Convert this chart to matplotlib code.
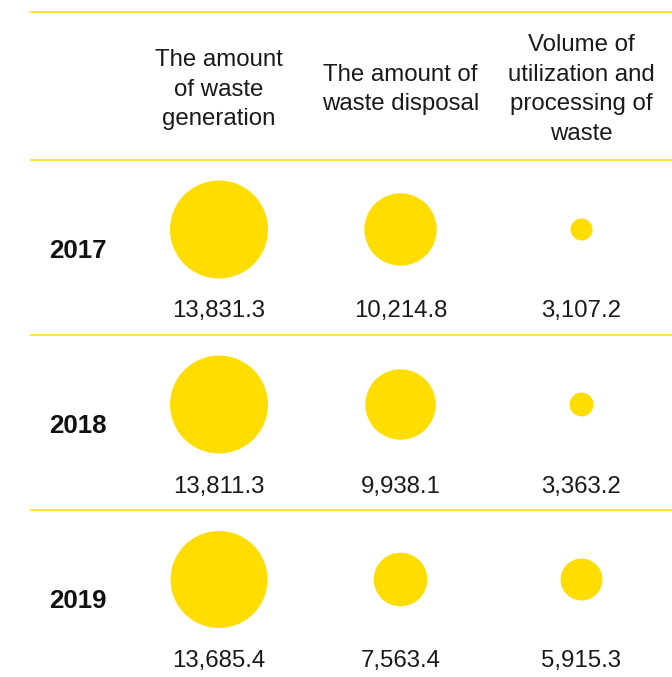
import matplotlib
matplotlib.use("Agg")
import matplotlib.pyplot as plt
from matplotlib.patches import Circle

# Data (thousand tonnes)
years = ["2017", "2018", "2019"]
columns = [
    "The amount\nof waste\ngeneration",
    "The amount of\nwaste disposal",
    "Volume of\nutilization and\nprocessing of\nwaste",
]
generation = [13831.3, 13811.3, 13685.4]
disposal = [10214.8, 9938.1, 7563.4]
utilization = [3107.2, 3363.2, 5915.3]

series = [generation, disposal, utilization]

# Layout (pixel coordinates, y grows downwards)
W, H = 672, 677
YELLOW = "#FFDD00"
TEXT = "#1a1a1a"
FONT = "Liberation Sans"
FS = 17.3
col_x = [219, 400.5, 581.5]
header_rule_y = 12
row_rule_y = [160, 335, 510]
rule_x0 = 30
px_per_unit = 98 / 13831.3   # bubble diameter scale

fig = plt.figure(figsize=(W / 100, H / 100), dpi=100)
ax = fig.add_axes([0, 0, 1, 1])
ax.set_xlim(0, W)
ax.set_ylim(H, 0)
ax.set_aspect("auto")
ax.axis("off")

# Horizontal rules
for y in [header_rule_y] + row_rule_y:
    ax.plot([rule_x0, W], [y, y], color=YELLOW, lw=1.1, solid_capstyle="butt")

# Column headers, centred between the top two rules
for x, label in zip(col_x, columns):
    ax.text(x, 89.5, label, ha="center", va="center",
            fontsize=FS, family=FONT, color=TEXT, linespacing=1.45,
            multialignment="center")

# Rows: year, bubbles and value labels
for r, (year, y0) in enumerate(zip(years, row_rule_y)):
    ax.text(49, y0 + 98, year, ha="left", va="baseline", fontsize=18.6,
            family=FONT, fontweight="bold", color="#111111")
    for c, x in enumerate(col_x):
        v = series[c][r]
        d = v * px_per_unit
        ax.add_patch(Circle((x, y0 + 69.5), d / 2, facecolor=YELLOW,
                            edgecolor="none"))
        ax.text(x, y0 + 157.5, f"{v:,.1f}", ha="center", va="baseline",
                fontsize=FS, family=FONT, color=TEXT)

fig.savefig("out.png", dpi=100, facecolor="white")
